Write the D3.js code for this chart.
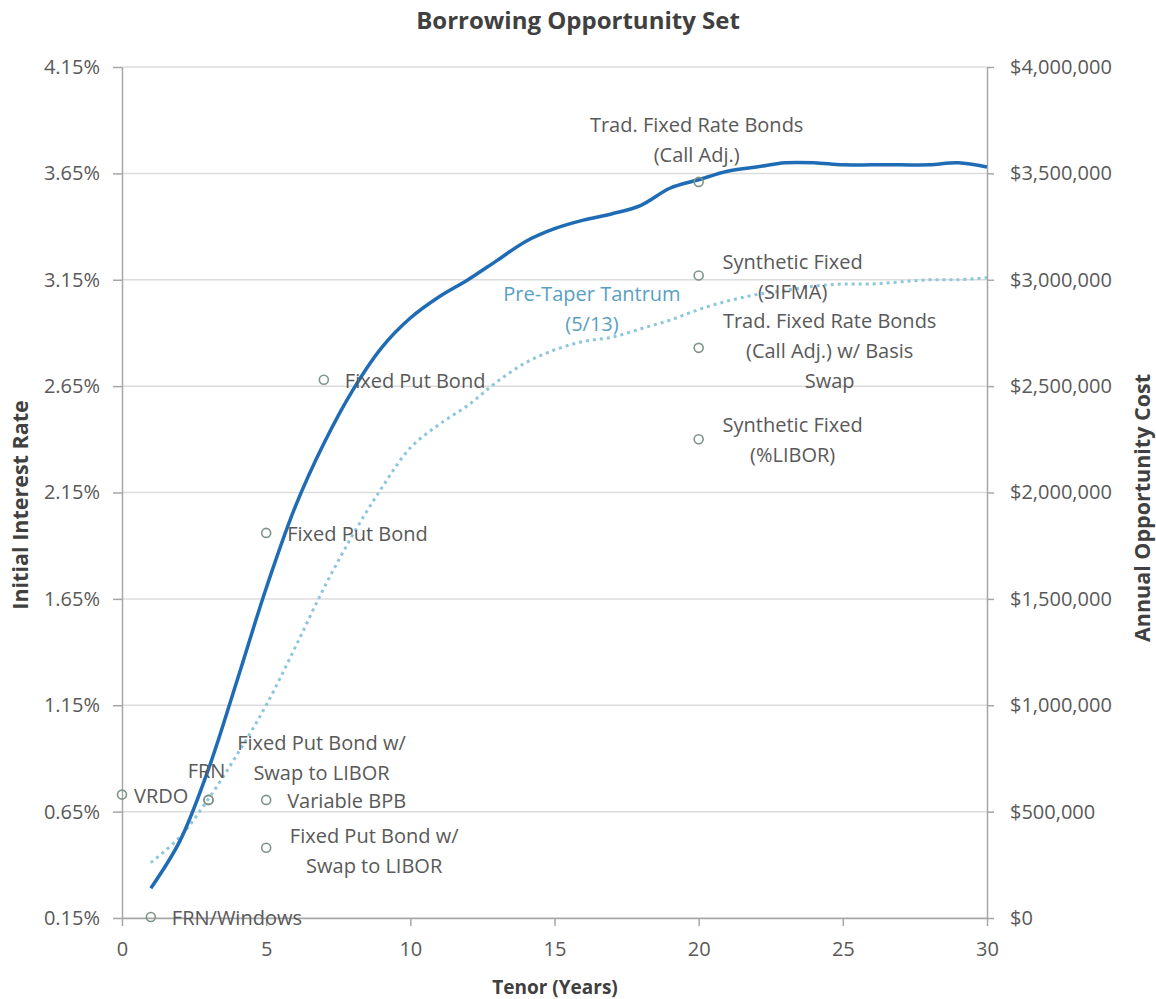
<!DOCTYPE html>
<html>
<head>
<meta charset="utf-8">
<script src="https://cdn.jsdelivr.net/npm/d3@7"></script>
<style>
  body { margin: 0; background: #fff; }
  text { font-family: "Open Sans", sans-serif; fill: #595959; }
</style>
</head>
<body>
<div id="container"></div>
<script>
// tenor (years) shared by both curves
const tenors = [1, 2, 3, 4, 5, 6, 7, 8, 9, 10, 11, 12, 13, 14, 15, 16, 17, 18, 19, 20, 21, 22, 23, 24, 25, 26, 27, 28, 29, 30];
// current borrowing curve (%)
const currentRates = [0.29, 0.51, 0.85, 1.27, 1.70, 2.08, 2.38, 2.63, 2.83, 2.97, 3.07, 3.15, 3.24, 3.33, 3.39, 3.43, 3.46, 3.50, 3.58, 3.62, 3.66, 3.68, 3.70, 3.70, 3.69, 3.69, 3.69, 3.69, 3.70, 3.68];
// pre-taper tantrum curve, 5/13 (%)
const preTaperRates = [0.41, 0.53, 0.71, 0.92, 1.15, 1.42, 1.70, 1.95, 2.17, 2.36, 2.47, 2.56, 2.67, 2.76, 2.82, 2.86, 2.88, 2.92, 2.96, 3.01, 3.05, 3.08, 3.10, 3.12, 3.13, 3.13, 3.14, 3.15, 3.15, 3.16];

// individual borrowing products
const productNames = [
  ["VRDO"],
  ["FRN"],
  ["Fixed Put Bond w/", "Swap to LIBOR"],
  ["Variable BPB"],
  ["Fixed Put Bond w/", "Swap to LIBOR"],
  ["FRN/Windows"],
  ["Fixed Put Bond"],
  ["Fixed Put Bond"],
  ["Trad. Fixed Rate Bonds", "(Call Adj.)"],
  ["Synthetic Fixed", "(SIFMA)"],
  ["Trad. Fixed Rate Bonds", "(Call Adj.) w/ Basis", "Swap"],
  ["Synthetic Fixed", "(%LIBOR)"]
];
const productTenors = [0, 3, 3, 5, 5, 1, 5, 7, 20, 20, 20, 20];
const productRates = [0.73, 0.705, 0.705, 0.705, 0.48, 0.155, 1.96, 2.68, 3.61, 3.17, 2.83, 2.40];

const leftTicks = [0.15, 0.65, 1.15, 1.65, 2.15, 2.65, 3.15, 3.65, 4.15];
const rightTicks = [0, 500000, 1000000, 1500000, 2000000, 2500000, 3000000, 3500000, 4000000];
const tenorTicks = [0, 5, 10, 15, 20, 25, 30];

const seriesLabel = ["Pre-Taper Tantrum", "(5/13)"];
const seriesLabelTenor = 16.3;
const seriesLabelRate = 3.09;

// label placement for each product: [dx, dy of label centre, anchor]
const labelPlacement = [
  [12, 0, "start"],
  [-2, -30, "middle"],
  [113, -43, "middle"],
  [21, 0, "start"],
  [108, 2, "middle"],
  [21, 0, "start"],
  [21, 0, "start"],
  [21, 0, "start"],
  [-2, -43, "middle"],
  [94, 1, "middle"],
  [131, 2, "middle"],
  [94, 0, "middle"]
];

const W = 1156, H = 999;
const margin = { top: 67, right: 169, bottom: 81, left: 122 };
const width = W - margin.left - margin.right;
const height = H - margin.top - margin.bottom;

const svg = d3.select("#container").append("svg")
  .attr("width", W)
  .attr("height", H);

const g = svg.append("g")
  .attr("transform", "translate(" + margin.left + "," + margin.top + ")");

const x = d3.scaleLinear().domain([0, 30]).range([0, width]);
const y = d3.scaleLinear().domain([0.15, 4.15]).range([height, 0]);
const yR = d3.scaleLinear().domain([0, 4000000]).range([height, 0]);

// gridlines
g.append("g").selectAll("line")
  .data(leftTicks)
  .join("line")
  .attr("x1", 0).attr("x2", width)
  .attr("y1", d => y(d)).attr("y2", d => y(d))
  .attr("stroke", "#dcdcdc").attr("stroke-width", 1.5);

// axes
const axisColor = "#a6a6a6";
function styleAxis(sel) {
  sel.select(".domain").attr("stroke", axisColor).attr("stroke-width", 1.5);
  sel.selectAll(".tick line").attr("stroke", axisColor).attr("stroke-width", 1.5);
  sel.selectAll(".tick text").attr("font-size", 20).attr("fill", "#595959");
}

const xAxis = g.append("g")
  .attr("transform", "translate(0," + height + ")")
  .call(d3.axisBottom(x).tickValues(tenorTicks).tickSize(8).tickSizeOuter(0).tickPadding(16));
styleAxis(xAxis);

const yAxis = g.append("g")
  .call(d3.axisLeft(y).tickValues(leftTicks).tickFormat(d => d.toFixed(2) + "%").tickSize(9).tickSizeOuter(0).tickPadding(13));
styleAxis(yAxis);

const yAxisR = g.append("g")
  .attr("transform", "translate(" + width + ",0)")
  .call(d3.axisRight(yR).tickValues(rightTicks).tickFormat(d3.format("$,")).tickSize(7).tickSizeOuter(0).tickPadding(16));
styleAxis(yAxisR);

// curves
const line = (vals) => d3.line()
  .x((d, i) => x(tenors[i]))
  .y(d => y(d))
  .curve(d3.curveCatmullRom.alpha(0.5))(vals);

g.append("path")
  .attr("d", line(preTaperRates))
  .attr("fill", "none")
  .attr("stroke", "#8ec6dc")
  .attr("stroke-width", 3)
  .attr("stroke-dasharray", "3,4");

g.append("path")
  .attr("d", line(currentRates))
  .attr("fill", "none")
  .attr("stroke", "#1f6cb4")
  .attr("stroke-width", 3.5);

// product markers
g.append("g").selectAll("circle")
  .data(productRates)
  .join("circle")
  .attr("cx", (d, i) => x(productTenors[i]))
  .attr("cy", d => y(d))
  .attr("r", 4.5)
  .attr("fill", "none")
  .attr("stroke", "#7f9489")
  .attr("stroke-width", 1.6);

// product labels
const lineGap = 30;
const labels = g.append("g").selectAll("text")
  .data(productNames)
  .join("text")
  .attr("font-size", 20)
  .attr("text-anchor", (d, i) => labelPlacement[i][2])
  .attr("dominant-baseline", "central");

labels.each(function (lines, i) {
  const cx = x(productTenors[i]) + labelPlacement[i][0];
  const cy = y(productRates[i]) + labelPlacement[i][1] - (lines.length - 1) * lineGap / 2;
  d3.select(this).selectAll("tspan")
    .data(lines)
    .join("tspan")
    .attr("x", cx)
    .attr("y", (d, j) => cy + j * lineGap)
    .text(d => d);
});

// series label
g.append("text")
  .attr("text-anchor", "middle")
  .attr("dominant-baseline", "central")
  .attr("font-size", 20)
  .style("fill", "#5a9fc3")
  .selectAll("tspan")
  .data(seriesLabel)
  .join("tspan")
  .attr("x", x(seriesLabelTenor))
  .attr("y", (d, j) => y(seriesLabelRate) + j * lineGap)
  .text(d => d);

// titles
svg.append("text")
  .attr("x", 578).attr("y", 19)
  .attr("text-anchor", "middle")
  .attr("dominant-baseline", "central")
  .attr("font-size", 24)
  .attr("font-weight", "bold")
  .style("fill", "#404040")
  .text("Borrowing Opportunity Set");

svg.append("text")
  .attr("x", 555).attr("y", 987)
  .attr("text-anchor", "middle")
  .attr("dominant-baseline", "central")
  .attr("font-size", 19)
  .attr("font-weight", "bold")
  .style("fill", "#404040")
  .text("Tenor (Years)");

svg.append("text")
  .attr("transform", "translate(19,505) rotate(-90)")
  .attr("text-anchor", "middle")
  .attr("dominant-baseline", "central")
  .attr("font-size", 21.5)
  .attr("font-weight", "bold")
  .style("fill", "#404040")
  .text("Initial Interest Rate");

svg.append("text")
  .attr("transform", "translate(1141,508) rotate(-90)")
  .attr("text-anchor", "middle")
  .attr("dominant-baseline", "central")
  .attr("font-size", 21.5)
  .attr("font-weight", "bold")
  .style("fill", "#404040")
  .text("Annual Opportunity Cost");
</script>
</body>
</html>
